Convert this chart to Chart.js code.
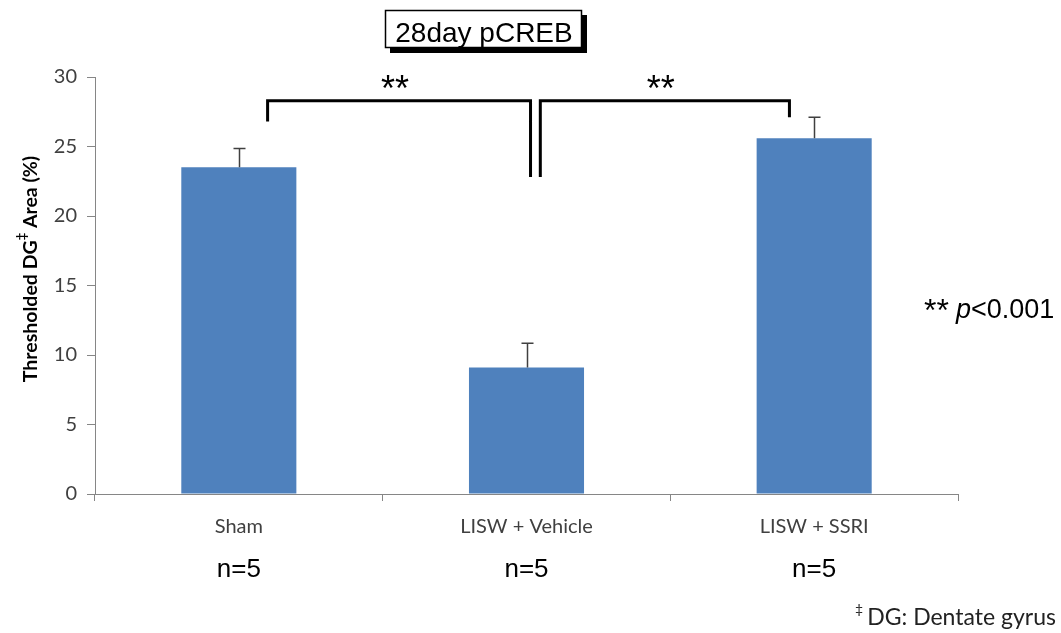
<!DOCTYPE html>
<html>
<head>
<meta charset="utf-8">
<script src="https://cdn.jsdelivr.net/npm/chart.js@4.4.1/dist/chart.umd.min.js"></script>
<style>
    html, body { margin: 0; padding: 0; background: #fff; }
    #wrap { width: 1061px; height: 633px; }
</style>
</head>
<body>
<div id="wrap"><canvas id="chart" width="1061" height="633"></canvas></div>
<script>
const categories = ['Sham', 'LISW + Vehicle', 'LISW + SSRI'];
const means = [23.5, 9.1, 25.6];
const errors = [1.35, 1.75, 1.5];
const sampleSizes = ['n=5', 'n=5', 'n=5'];
const yTicks = [0, 5, 10, 15, 20, 25, 30];

// significance brackets, x given in category units
const brackets = [
    { from: 0.1, to: 1.014, top: 28.3, fromLeg: 26.8, toLeg: 22.8, label: '**' },
    { from: 1.048, to: 1.914, top: 28.3, fromLeg: 22.8, toLeg: 27.1, label: '**' }
];

const chartTitle = '28day pCREB';
const pNote = 'p<0.001';
const footnote = 'DG: Dentate gyrus';

const sansFont = 'Lato, "Open Sans", sans-serif';
const arialFont = '"Liberation Sans", Arial, sans-serif';

const annotations = {
    id: 'annotations',
    afterDatasetsDraw(chart) {
        const { ctx, scales: { x, y } } = chart;
        ctx.save();

        // error bars (upper only)
        ctx.strokeStyle = '#404040';
        ctx.lineWidth = 1.5;
        means.forEach((m, i) => {
            const px = Math.round(x.getPixelForValue(i)) + 0.5;
            const base = y.getPixelForValue(m);
            const top = y.getPixelForValue(m + errors[i]);
            ctx.beginPath();
            ctx.moveTo(px, base);
            ctx.lineTo(px, top);
            ctx.moveTo(px - 6, top);
            ctx.lineTo(px + 6, top);
            ctx.stroke();
        });

        // brackets
        const step = x.getPixelForValue(1) - x.getPixelForValue(0);
        const bx = v => x.getPixelForValue(0) + v * step;
        ctx.strokeStyle = '#000';
        ctx.lineWidth = 3;
        ctx.fillStyle = '#000';
        ctx.font = `36px ${arialFont}`;
        ctx.textAlign = 'center';
        ctx.textBaseline = 'alphabetic';
        brackets.forEach(b => {
            const x1 = bx(b.from), x2 = bx(b.to), ty = y.getPixelForValue(b.top);
            ctx.beginPath();
            ctx.moveTo(x1, y.getPixelForValue(b.fromLeg));
            ctx.lineTo(x1, ty);
            ctx.lineTo(x2, ty);
            ctx.lineTo(x2, y.getPixelForValue(b.toLeg));
            ctx.stroke();
            ctx.fillText(b.label, (x1 + x2) / 2 - 4, ty);
        });

        // n= labels
        ctx.font = `26px ${arialFont}`;
        sampleSizes.forEach((n, i) => {
            ctx.fillText(n, x.getPixelForValue(i), 577);
        });

        // title box with shadow
        ctx.fillStyle = '#000';
        ctx.fillRect(390, 15, 197, 38);
        ctx.fillStyle = '#fff';
        ctx.fillRect(385, 10, 197, 38);
        ctx.strokeStyle = '#000';
        ctx.lineWidth = 1.5;
        ctx.strokeRect(385.5, 10.5, 196, 37);
        ctx.fillStyle = '#000';
        ctx.font = `28px ${arialFont}`;
        ctx.fillText(chartTitle, 484, 42);

        // p-value note
        ctx.textAlign = 'left';
        ctx.font = `32px ${arialFont}`;
        ctx.fillText('**', 924, 321);
        ctx.font = `italic 27px ${arialFont}`;
        ctx.fillText(pNote.charAt(0), 956, 318);
        const pw = ctx.measureText(pNote.charAt(0)).width;
        ctx.font = `27px ${arialFont}`;
        ctx.fillText(pNote.slice(1), 956 + pw, 318);

        // footnote
        ctx.textAlign = 'right';
        ctx.font = `23px ${sansFont}`;
        ctx.fillStyle = '#222';
        ctx.fillText(footnote, 1056, 625);
        const fw = ctx.measureText(footnote).width;
        ctx.font = `14px ${sansFont}`;
        ctx.fillText('‡', 1056 - fw - 4, 614);

        // y-axis title with superscript
        ctx.translate(31, 269);
        ctx.rotate(-Math.PI / 2);
        ctx.fillStyle = '#000';
        ctx.textAlign = 'left';
        ctx.textBaseline = 'middle';
        const partA = 'Thresholded DG', partB = ' Area (%)';
        ctx.font = `bold 19.5px ${sansFont}`;
        const wa = ctx.measureText(partA).width, wb = ctx.measureText(partB).width;
        ctx.font = `bold 13px ${sansFont}`;
        const ws = ctx.measureText('‡').width;
        const start = -(wa + ws + wb) / 2;
        ctx.font = `bold 19.5px ${sansFont}`;
        ctx.fillText(partA, start, 0);
        ctx.fillText(partB, start + wa + ws, 0);
        ctx.font = `bold 13px ${sansFont}`;
        ctx.fillText('‡', start + wa, -9);

        ctx.restore();
    }
};

new Chart(document.getElementById('chart'), {
    type: 'bar',
    data: {
        labels: categories,
        datasets: [{
            data: means,
            backgroundColor: '#4F81BD',
            borderWidth: 0,
            barPercentage: 0.4,
            categoryPercentage: 1.0
        }]
    },
    options: {
        responsive: false,
        devicePixelRatio: 1,
        animation: false,
        layout: { padding: { top: 77, right: 103, left: 0, bottom: 0 } },
        plugins: {
            legend: { display: false },
            tooltip: { enabled: false },
            title: { display: false }
        },
        scales: {
            x: {
                ticks: { color: '#404040', font: { family: sansFont, size: 20 }, padding: 14 },
                grid: { offset: true, drawOnChartArea: false, tickLength: 7, color: '#868686' },
                border: { color: '#868686', width: 1 },
                afterFit: s => { s.height = 633 - 494; }
            },
            y: {
                min: 0,
                max: 30,
                afterBuildTicks: s => { s.ticks = yTicks.map(v => ({ value: v })); },
                ticks: { color: '#404040', font: { family: sansFont, size: 20 }, padding: 10 },
                grid: { drawOnChartArea: false, tickLength: 8, color: '#868686' },
                border: { color: '#868686', width: 1 },
                afterFit: s => { s.width = 95; }
            }
        }
    },
    plugins: [annotations]
});
</script>
</body>
</html>
